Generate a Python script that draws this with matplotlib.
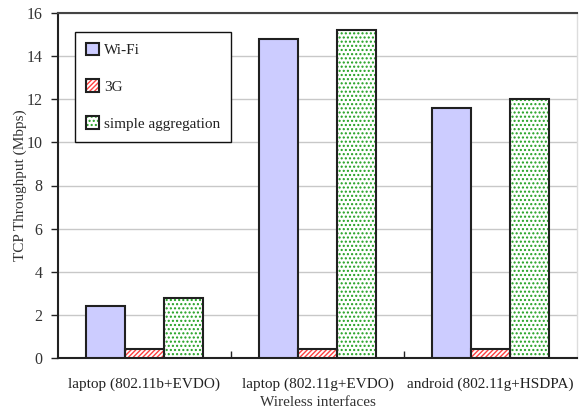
import matplotlib
matplotlib.use("Agg")
import matplotlib.pyplot as plt
from matplotlib.patches import Patch
import numpy as np

categories = ["laptop (802.11b+EVDO)", "laptop (802.11g+EVDO)", "android (802.11g+HSDPA)"]
series_names = ["Wi-Fi", "3G", "simple aggregation"]
wifi = [2.4, 14.8, 11.6]
g3 = [0.4, 0.4, 0.4]
agg = [2.8, 15.2, 12.0]
yticks = [0, 2, 4, 6, 8, 10, 12, 14, 16]

plt.rcParams['font.family'] = ['Liberation Serif', 'DejaVu Serif']
plt.rcParams['hatch.linewidth'] = 1.0

W, H = 579, 412
fig = plt.figure(figsize=(W/100, H/100), dpi=100)
left, right, top, bottom = 58, 577, 13, 358
ax = fig.add_axes([left/W, 1-bottom/H, (right-left)/W, (bottom-top)/H])

x = np.arange(len(categories))
bw = 0.225
fills = [dict(facecolor="#CCCCFF", hatch=None, hc=None),
         dict(facecolor="white", hatch="///////", hc="#FF4040"),
         dict(facecolor="white", hatch="....", hc="#20A020")]
data = [wifi, g3, agg]
handles = []
for i, (vals, f) in enumerate(zip(data, fills)):
    pos = x + (i-1)*bw
    if f["hatch"]:
        ax.bar(pos, vals, bw, color=f["facecolor"], hatch=f["hatch"], edgecolor=f["hc"], linewidth=0, zorder=3)
        h1 = Patch(facecolor=f["facecolor"], hatch=f["hatch"], edgecolor=f["hc"], linewidth=0)
    else:
        ax.bar(pos, vals, bw, color=f["facecolor"], linewidth=0, zorder=3)
        h1 = Patch(facecolor=f["facecolor"], linewidth=0)
    ax.bar(pos, vals, bw, fill=False, edgecolor="#202020", linewidth=1.5, zorder=4)
    h2 = Patch(fill=False, edgecolor="#202020", linewidth=1.5)
    handles.append((h1, h2))

ax.set_xlim(-0.5, 2.5)
ax.set_ylim(0, 16)
ax.set_yticks(yticks)
ax.set_yticklabels([str(v) for v in yticks], fontsize=11.5, color="#333333")
ax.yaxis.grid(True, color="#C8C8C8", linewidth=1.0, zorder=0)
ax.set_axisbelow(True)
ax.tick_params(axis='y', direction='out', length=5, width=1, color="#222222", pad=6)

ax.set_xticks(x)
ax.set_xticklabels(categories, fontsize=11, color="#222222")
ax.set_xticks([0.5, 1.5], minor=True)
ax.tick_params(axis='x', which='major', length=0, pad=14)
ax.tick_params(axis='x', which='minor', direction='in', length=5, width=1, color="#222222")

ax.spines['left'].set_color("#222222")
ax.spines['left'].set_linewidth(1.5)
ax.spines['bottom'].set_color("#222222")
ax.spines['bottom'].set_linewidth(1.5)
ax.spines['top'].set_color("#444444")
ax.spines['top'].set_linewidth(1.5)
ax.spines['right'].set_color("#DDDDDD")
ax.spines['right'].set_linewidth(1.0)

ax.set_ylabel("TCP Throughput (Mbps)", fontsize=11, color="#333333", labelpad=0)
ax.set_xlabel("Wireless interfaces", fontsize=11, color="#333333", labelpad=4)

leg = ax.legend(handles, series_names, loc='upper left', bbox_to_anchor=((75-left)/(right-left), 1-(32-top)/(bottom-top)),
                frameon=True, fancybox=False, edgecolor="#111111", framealpha=1,
                fontsize=11, handlelength=0.9, handleheight=0.9, handletextpad=0.3,
                labelspacing=1.45, borderpad=0.7, borderaxespad=0)
leg.get_frame().set_linewidth(1.0)
for t in leg.get_texts():
    t.set_color("#222222")

fig.savefig("out.png", dpi=100)
